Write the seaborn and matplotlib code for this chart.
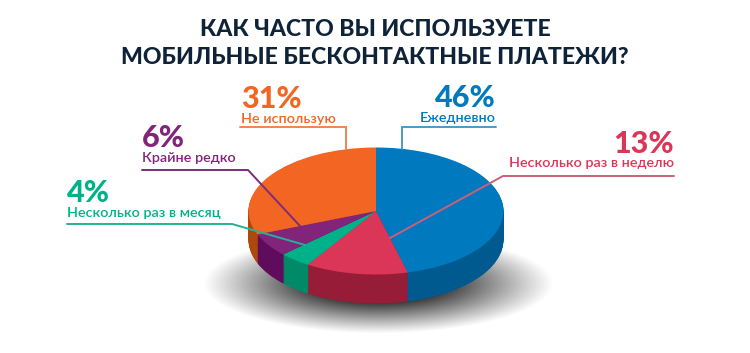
import numpy as np
import seaborn as sns
import matplotlib.pyplot as plt

categories = ['Ежедневно', 'Несколько раз в неделю', 'Несколько раз в месяц', 'Крайне редко', 'Не использую']
values = [46, 13, 4, 6, 31]
top_colors = ['#0079bf', '#db3657', '#00b189', '#82247a', '#f26522']
side_colors = ['#005a8f', '#961c38', '#008a68', '#600c5c', '#ad4a0b']
line_colors = ['#4a9ac9', '#cc5f78', '#21b392', '#7d2c78', '#f08552']
title_lines = ['КАК ЧАСТО ВЫ ИСПОЛЬЗУЕТЕ', 'МОБИЛЬНЫЕ БЕСКОНТАКТНЫЕ ПЛАТЕЖИ?']

W, H = 750, 353
cx, cy, rx, ry, depth = 376, 211, 127.5, 63.5, 29

sns.set_theme(style='white')
plt.rcParams['font.family'] = ['Lato', 'Noto Sans', 'DejaVu Sans']

fig = plt.figure(figsize=(W / 100, H / 100), dpi=100)

# soft shadow under the pie
yy, xx = np.mgrid[0:H, 0:W]
d = np.sqrt(((xx - 378) / 175) ** 2 + ((yy - 283) / 50) ** 2)
shade = np.clip(1.3 * np.clip(1 - d, 0, 1) ** 1.05, 0, 0.8)

bg = fig.add_axes([0, 0, 1, 1])
bg.set_zorder(0)
bg.imshow(np.dstack([np.zeros_like(shade)] * 3 + [shade]), extent=(0, W, H, 0), aspect='auto')
bg.axis('off')

# pie axes: one data unit is the pie radius, squashed by the axes limits
ax = fig.add_axes([0, 0, 1, 1])
ax.set_zorder(1)

# stacked pies give the side wall
n_layers = 40
for i in range(n_layers, 0, -1):
    ax.pie(values, colors=side_colors, startangle=90, counterclock=False,
           center=(0, -i / n_layers * depth / ry), radius=1,
           wedgeprops={'linewidth': 0})
ax.pie(values, colors=top_colors, startangle=90, counterclock=False, center=(0, 0), radius=1,
       wedgeprops={'linewidth': 0})
ax.set_aspect('auto')
ax.set_xlim(-cx / rx, (W - cx) / rx)
ax.set_ylim((cy - H) / ry, cy / ry)
ax.patch.set_alpha(0)

# overlay axes in picture pixels for leader lines and labels
ov = fig.add_axes([0, 0, 1, 1])
ov.set_zorder(2)
ov.set_xlim(0, W)
ov.set_ylim(H, 0)
ov.axis('off')

leaders = [
    ([402, 402, 496], [149, 127, 127]),
    ([674, 503, 390], [176, 176, 238]),
    ([67, 232, 305], [224, 224, 245]),
    ([142, 248, 300], [170, 170, 226]),
    ([240, 346, 346], [127, 127, 149]),
]
for (lx, ly), c in zip(leaders, line_colors):
    ov.plot(lx, ly, color=c, lw=1.4, solid_joinstyle='miter')

labels = [
    (496, 'right', 107, 122, 0),
    (674, 'right', 153, 167, 1),
    (67, 'left', 202, 217, 2),
    (142, 'left', 147, 162, 3),
    (241, 'left', 108, 123, 4),
]
for x, ha, y_pct, y_name, i in labels:
    ov.text(x, y_pct, f'{values[i]}%', color=top_colors[i], ha=ha, va='baseline',
            fontsize=22, fontweight='black')
    ov.text(x, y_name, categories[i], color=top_colors[i], ha=ha, va='baseline',
            fontsize=10.4, fontweight=600)

ov.text(375, 36, title_lines[0], color='#0e2238', ha='center', va='baseline', fontsize=16.6, fontweight='black')
ov.text(375, 64, title_lines[1], color='#0e2238', ha='center', va='baseline', fontsize=16.6, fontweight='black')

fig.savefig('out.png', dpi=100)
